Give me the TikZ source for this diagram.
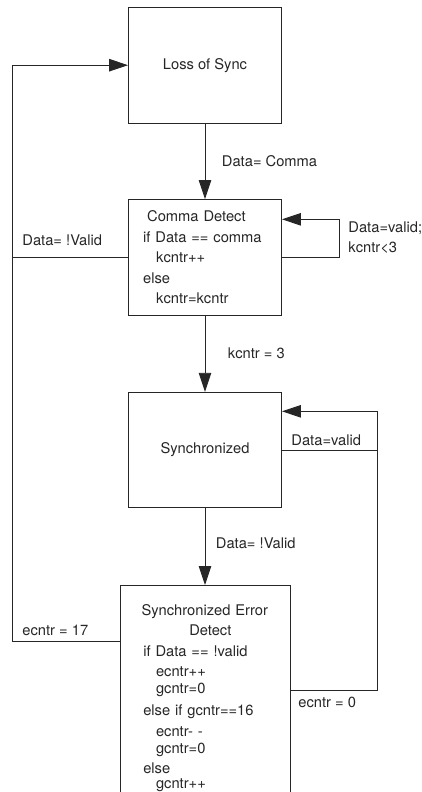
\documentclass[tikz,border=0pt]{standalone}
\usepackage{fontspec}
\setmainfont{TeX Gyre Heros}
\usetikzlibrary{arrows.meta, positioning}

\begin{document}
\begin{tikzpicture}[x=1pt, y=1pt, >={Triangle[length=19pt, width=12.5pt]},
  line width=0.9pt, color=black!85,
  font=\fontsize{14.7}{20.6}\selectfont,
  state/.style={draw, minimum width=153pt, minimum height=115.5pt, inner sep=0pt},
  lbl/.style={inner sep=0pt, anchor=west}]
  \useasboundingbox (0,0) rectangle (422,-792);
  \clip (0,0) rectangle (422,-792);

  % Zustaende
  \node[state] (loss) at (205,-65.2) {Loss of Sync};
  \node[state, align=left, text width=123.6pt] (comma) at (205,-257.3)
    {\hspace*{4pt}Comma Detect\\if Data == comma\\\hspace*{13pt}kcntr++\\else\\\hspace*{13pt}kcntr=kcntr};
  \node[state] (sync) at (205,-450) {Synchronized};
  \node[state, anchor=north, minimum width=170pt, minimum height=0pt, inner ysep=19pt,
    align=left, text width=127pt, font=\fontsize{14.7}{17}\selectfont] (err) at (205,-585)
    {Synchronized Error\\[2.7pt]\hspace*{47.8pt}Detect\\[4pt]\hspace*{1.8pt}if Data == !valid\\[3pt]
     \hspace*{14.5pt}ecntr++\\\hspace*{14.5pt}gcntr=0\\[5pt]\hspace*{1.8pt}else if gcntr==16\\[4.7pt]
     \hspace*{14.5pt}ecntr- -\\\hspace*{14.5pt}gcntr=0\\[3pt]\hspace*{1.8pt}else\\[-2pt]\hspace*{14.5pt}gcntr++};

  % Uebergaenge nach unten
  \draw[->] (loss) -- (comma) node[lbl, midway, right=16.5pt] (lcomma) {Data= Comma};
  \draw[->] (comma) -- (sync) node[lbl, midway, right=22.5pt] (lkcntr) {kcntr = 3};
  \draw[->] (sync) -- (err) node[lbl, pos=0.45, right=10.5pt] (lnvalid) {Data= !Valid};

  % Rueckfuehrung links
  \draw[->] ([yshift=-56pt]err.north west) -| ([xshift=-115.5pt]loss.west) -- (loss.west);
  \draw (comma.west) -- ([xshift=-115.5pt]comma.west);
  \node[lbl] (linvalid) at (22,-240.7) {Data= !Valid};
  \node[lbl] (l17) at (22,-630) {ecntr = 17};

  % Schleife an Comma Detect
  \draw[->] (comma.east) -- ++(57,0) |- ([yshift=38pt]comma.east);
  \node[lbl, align=left] (lvalid) at (348,-237.8) {Data=valid;\\kcntr<3};

  % Rueckfuehrung rechts
  \draw[->] ([yshift=-105pt]err.north east) -| ([xshift=95.5pt, yshift=38.7pt]sync.east)
    -- ([yshift=38.7pt]sync.east);
  \draw (sync.east) -- ++(95.5,0);
  \node[lbl] (lsvalid) at (291,-440) {Data=valid};
  \node[lbl] (l0) at (298,-702) {ecntr = 0};
\end{tikzpicture}
\end{document}
